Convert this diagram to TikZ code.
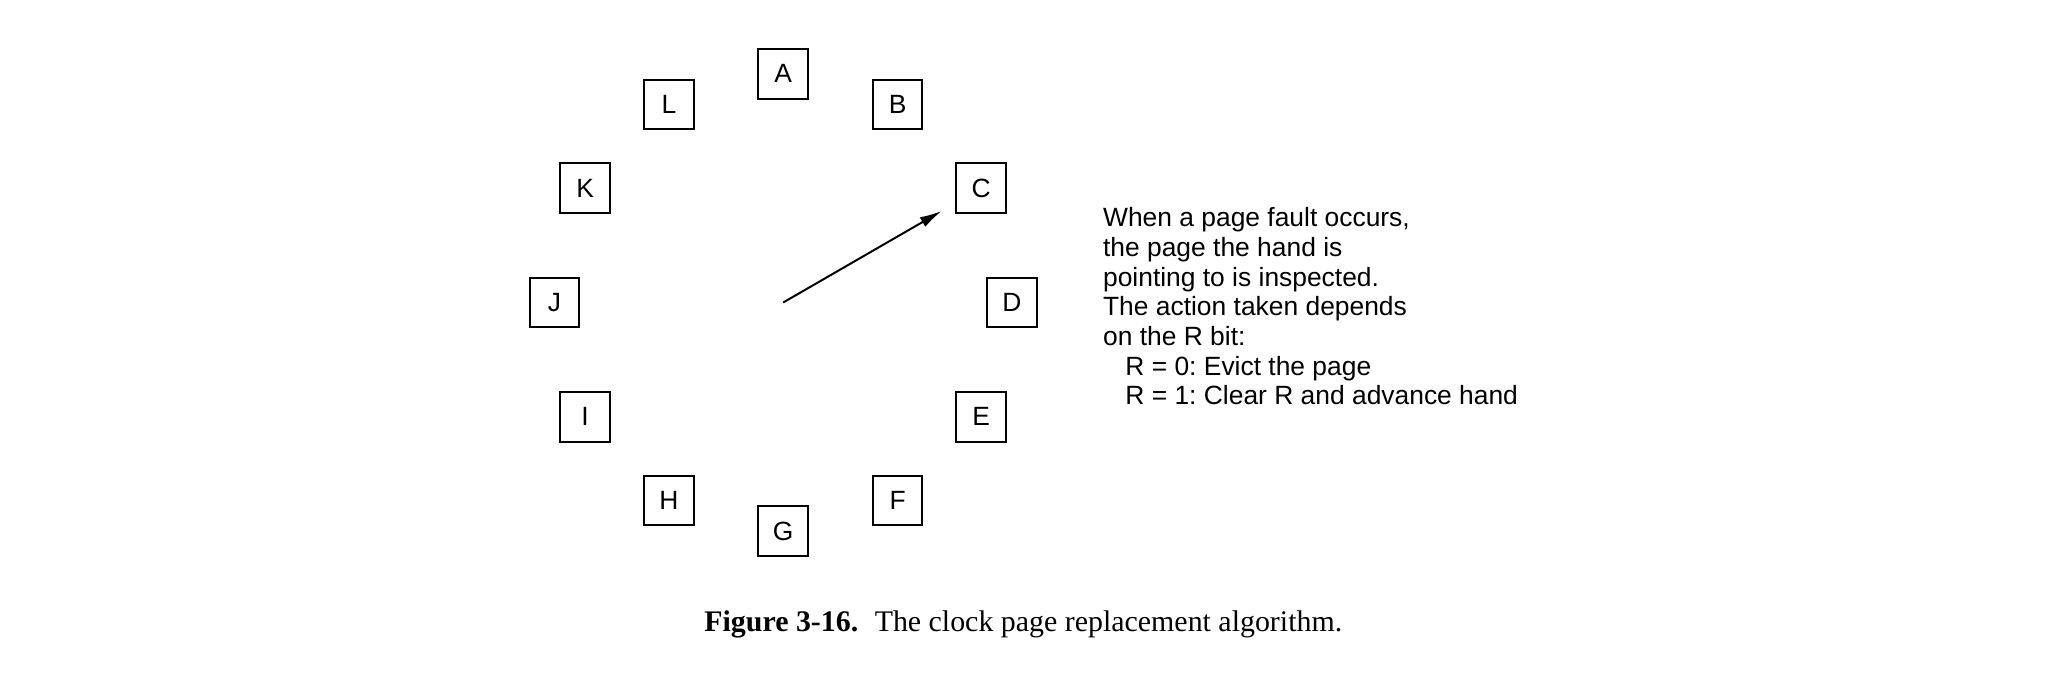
\documentclass[tikz,border=0pt]{standalone}
\usepackage{fontspec}
\setmainfont{Liberation Sans}
\newfontfamily\capfont{Liberation Serif}
\usetikzlibrary{arrows.meta}
\frenchspacing
\tikzset{
  pagebox/.style={draw=black, line width=1pt, minimum size=24.8pt, inner sep=0pt,
    font=\fontsize{13.2}{15}\selectfont},
  hand/.style={line width=1pt, -{Latex[length=11pt,width=5.5pt]}, shorten >=8pt},
  note/.style={anchor=base west, inner sep=0pt, font=\fontsize{13.2}{14.85}\selectfont},
  caption/.style={anchor=base west, inner sep=0pt, font=\capfont\fontsize{14.95}{17}\selectfont}
}
\begin{document}
\begin{tikzpicture}[x=0.5pt,y=-0.5pt]
\useasboundingbox (0,0) rectangle (2048,680);
\coordinate (O) at (783.2,302.5);
\foreach \l/\a in {A/90,B/60,C/30,D/0,E/-30,F/-60,G/-90,H/-120,I/-150,J/180,K/150,L/120}{
  \node[pagebox] (\l) at ({783.2+228.7*cos(\a)},{302.5-228.7*sin(\a)}) {\l};
}
\draw[hand] (O) -- (C);
\node[note] (text) at (1102.7,226.7) {\begin{tabular}[t]{@{}l@{}}
When a page fault occurs,\\
the page the hand is\\
pointing to is inspected.\\
The action taken depends\\
on the R bit:\\
\hspace{11.15pt}R = 0: Evict the page\\
\hspace{11.15pt}R = 1: Clear R and advance hand
\end{tabular}};
\node[caption] (cap) at (704,631.7) {\textbf{Figure 3-16.}\hspace{0.55em}The clock page replacement algorithm.};
\end{tikzpicture}
\end{document}
